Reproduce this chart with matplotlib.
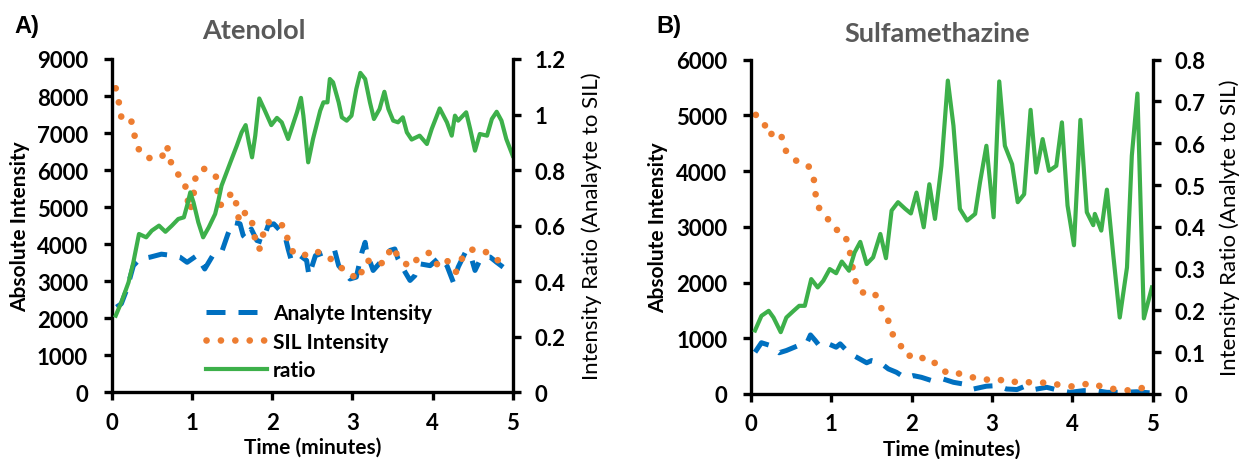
import matplotlib
matplotlib.use("Agg")
import matplotlib.pyplot as plt

# ---------------- data ----------------
# Panel A: Atenolol
a_sil_t = [0.05,0.09,0.12,0.18,0.24,0.28,0.32,0.42,0.55,0.63,0.69,0.72,0.80,0.91,0.94,
           0.97,1.01,1.03,1.05,1.16,1.30,1.32,1.36,1.43,1.53,1.56,1.59,1.67,1.75,1.78,
           1.84,1.88,1.94,2.03,2.15,2.20,2.27,2.39,2.53,2.69,2.82,2.95,3.10,3.13,3.21,
           3.33,3.43,3.48,3.59,3.71,3.83,3.96,4.06,4.15,4.22,4.29,4.36,4.47,4.63,4.76,4.86]
a_sil = [8210,7820,7430,7480,7370,6980,6610,6350,6290,6370,6670,6290,5960,5670,5300,
         4900,5130,5510,5900,6040,5820,5440,5060,5300,5370,4990,4610,4870,4590,4210,
         3850,4210,4590,4620,4480,4090,3740,3690,3830,3670,3450,3190,3060,3440,3560,
         3450,3560,3930,3640,3380,3640,3770,3450,3620,3470,3240,3590,3850,3850,3620,3520]

a_an_t = [0.06,0.12,0.19,0.27,0.35,0.48,0.62,0.77,0.85,0.94,1.06,1.16,1.27,1.37,1.45,
          1.51,1.60,1.64,1.68,1.74,1.81,1.88,1.95,2.02,2.10,2.16,2.20,2.24,2.35,2.43,
          2.46,2.54,2.72,2.78,2.83,2.97,3.05,3.12,3.16,3.18,3.26,3.35,3.47,3.53,3.57,
          3.66,3.72,3.78,3.84,3.97,4.09,4.18,4.26,4.32,4.41,4.47,4.53,4.59,4.65,4.72,
          4.80,4.88]
a_an = [2300,2390,2790,3420,3600,3650,3730,3690,3650,3510,3690,3330,3730,3780,4280,
        4590,4550,4230,4140,4410,4100,4050,4500,4550,4370,4230,3870,3560,3690,3560,
        3150,3690,3830,3830,3420,3060,3110,3780,4050,3780,3290,3510,3830,3870,3600,
        3240,3020,3150,3470,3420,3650,3420,2970,3380,3780,3740,3290,3560,3650,3650,
        3510,3380]

a_ratio_t = [0.05,0.12,0.21,0.27,0.34,0.43,0.50,0.59,0.67,0.75,0.83,0.90,0.94,0.98,1.02,
             1.08,1.14,1.21,1.29,1.33,1.37,1.48,1.56,1.62,1.67,1.71,1.75,1.79,1.84,1.91,
             1.99,2.06,2.12,2.20,2.31,2.36,2.39,2.45,2.51,2.60,2.64,2.69,2.72,2.76,2.83,
             2.87,2.93,2.99,3.05,3.10,3.16,3.22,3.27,3.34,3.40,3.45,3.51,3.57,3.63,3.68,
             3.74,3.84,3.93,3.99,4.09,4.18,4.24,4.28,4.32,4.42,4.47,4.53,4.59,4.68,4.74,
             4.80,4.86,4.92,5.00]
a_ratio = [0.276,0.324,0.396,0.468,0.570,0.558,0.582,0.600,0.578,0.600,0.624,0.630,0.672,0.720,0.684,
           0.612,0.558,0.594,0.642,0.690,0.744,0.828,0.888,0.936,0.962,0.900,0.846,0.924,1.058,1.014,
           0.962,0.988,0.972,0.912,1.008,1.060,0.996,0.828,0.912,1.014,1.044,1.044,1.128,1.116,1.044,
           0.990,0.978,0.996,1.092,1.150,1.128,1.044,0.984,1.020,1.082,1.020,0.978,0.972,0.990,0.936,
           0.910,0.924,0.894,0.948,1.022,0.972,0.924,0.996,0.978,1.008,0.948,0.870,0.930,0.924,0.984,
           1.010,0.978,0.912,0.852]

# Panel B: Sulfamethazine
b_sil_t = [0.06,0.16,0.21,0.34,0.39,0.44,0.56,0.71,0.78,0.80,0.83,0.94,1.03,1.16,1.22,
           1.25,1.28,1.33,1.43,1.54,1.61,1.70,1.75,1.85,1.94,2.09,2.20,2.31,2.44,2.58,
           2.73,2.89,3.05,3.21,3.37,3.52,3.70,3.87,4.05,4.22,4.39,4.56,4.74,4.90]
b_sil = [5010,4890,4640,4720,4590,4340,4190,4110,3880,3620,3370,3180,2970,2890,2640,
         2390,2140,1880,1790,1810,1570,1360,1100,900,680,710,550,560,370,370,
         310,250,280,200,240,190,210,150,130,200,120,80,60,120]

b_an_t = [0.05,0.13,0.24,0.35,0.44,0.59,0.69,0.74,0.80,0.86,0.98,1.06,1.11,1.19,1.29,
          1.44,1.50,1.61,1.71,1.81,1.92,2.02,2.12,2.25,2.39,2.52,2.64,2.77,2.93,3.06,
          3.18,3.31,3.41,3.52,3.68,3.85,3.97,4.14,4.30,4.43,4.63,4.80,4.97]
b_an = [750,920,870,740,780,870,900,1060,960,850,890,840,900,780,680,
        560,600,560,450,390,290,330,300,240,270,210,180,90,140,150,
        90,80,140,80,120,60,30,60,60,30,30,40,20]

b_ratio_t = [0.05,0.13,0.22,0.28,0.37,0.44,0.53,0.60,0.67,0.75,0.83,0.90,0.98,1.06,1.13,
             1.22,1.29,1.36,1.44,1.52,1.61,1.68,1.75,1.83,1.92,1.99,2.06,2.15,2.22,2.29,
             2.37,2.45,2.52,2.60,2.69,2.79,2.85,2.93,3.02,3.09,3.16,3.25,3.32,3.40,3.48,
             3.55,3.63,3.71,3.80,3.87,3.94,4.02,4.10,4.18,4.26,4.28,4.36,4.43,4.51,4.59,
             4.68,4.74,4.81,4.89,4.99]
b_ratio = [0.152,0.187,0.199,0.183,0.148,0.183,0.199,0.211,0.211,0.275,0.255,0.271,0.299,0.289,0.317,
           0.295,0.339,0.364,0.311,0.327,0.383,0.325,0.439,0.459,0.443,0.432,0.482,0.399,0.502,0.419,
           0.546,0.750,0.642,0.443,0.415,0.431,0.506,0.594,0.423,0.748,0.594,0.550,0.459,0.478,0.680,
           0.530,0.610,0.534,0.546,0.650,0.451,0.356,0.656,0.435,0.404,0.431,0.391,0.489,0.331,0.183,
           0.303,0.570,0.719,0.181,0.255]

series_labels = ["Analyte Intensity", "SIL Intensity", "ratio"]
titles = ["Atenolol", "Sulfamethazine"]
panel_letters = ["A)", "B)"]
x_ticks = [0, 1, 2, 3, 4, 5]
a_left_ticks = list(range(0, 9001, 1000))
a_right_ticks = [0, 0.2, 0.4, 0.6, 0.8, 1, 1.2]
a_right_labels = ["0", "0.2", "0.4", "0.6", "0.8", "1", "1.2"]
b_left_ticks = list(range(0, 6001, 1000))
b_right_ticks = [0, 0.1, 0.2, 0.3, 0.4, 0.5, 0.6, 0.7, 0.8]
b_right_labels = ["0", "0.1", "0.2", "0.3", "0.4", "0.5", "0.6", "0.7", "0.8"]
right_ylabels = ["Intensity Ratio (Analayte to SIL)", "Intensity Ratio (Analyte to SIL)"]

# ---------------- style ----------------
FONT = "Lato"
plt.rcParams["font.family"] = [FONT, "DejaVu Sans"]
BLUE = "#0070C0"
ORANGE = "#ED7D31"
GREEN = "#3DB04A"
SPW = 2.4
TICKFS = 16
LABFS = 15

fig = plt.figure(figsize=(12.4, 4.6), dpi=100)
W, H = 1240, 460


def axes_rect(x0, x1, ytop, ybot):
    return [x0 / W, (H - ybot) / H, (x1 - x0) / W, (ybot - ytop) / H]


def style_axes(ax):
    ax.spines["top"].set_visible(False)
    for s in ["left", "right", "bottom"]:
        ax.spines[s].set_linewidth(SPW)
        ax.spines[s].set_color("black")
    ax.tick_params(axis="both", direction="out", length=6, width=SPW,
                   labelsize=TICKFS, color="black")
    for lab in ax.get_xticklabels() + ax.get_yticklabels():
        lab.set_fontweight("bold")


def panel(rect, an_t, an, sil_t, sil, r_t, r, ylim, yticks, rlim, rticks, rlabels,
          rlabel, lab_x, rlab_x, legend=False):
    ax = fig.add_axes(rect)
    ax2 = ax.twinx()
    l1, = ax.plot(an_t, an, color=BLUE, lw=3.6, linestyle=(0, (3.8, 2.6)),
                  dash_capstyle="butt", solid_joinstyle="round")
    l2, = ax.plot(sil_t, sil, color=ORANGE, lw=4.8, linestyle=(0, (0.01, 2.15)),
                  dash_capstyle="round")
    l3, = ax2.plot(r_t, r, color=GREEN, lw=3.0, solid_joinstyle="round")
    ax.set_xlim(0, 5)
    ax.set_ylim(*ylim)
    ax.set_yticks(yticks)
    ax.set_xticks(x_ticks)
    ax.set_xticklabels([str(v) for v in x_ticks])
    ax2.set_ylim(*rlim)
    ax2.set_yticks(rticks)
    ax2.set_yticklabels(rlabels)
    style_axes(ax)
    style_axes(ax2)
    ax.spines["right"].set_visible(False)
    ax2.spines["left"].set_visible(False)
    ax2.spines["bottom"].set_visible(False)
    ax.tick_params(axis="y", pad=11)
    ax.tick_params(axis="x", pad=8)
    ax2.tick_params(axis="y", pad=10)
    ax.set_xlabel("Time (minutes)", fontsize=LABFS, fontweight="bold")
    ax.xaxis.set_label_coords(0.5, -0.133)
    ax.set_ylabel("Absolute Intensity", fontsize=LABFS, fontweight="bold")
    ax.yaxis.set_label_coords(lab_x, 0.5)
    ax2.set_ylabel(rlabel, fontsize=16, fontweight="normal")
    ax2.yaxis.set_label_coords(rlab_x, 0.5)
    if legend:
        ax2.legend([l1, l2, l3], series_labels, loc="lower left",
                   bbox_to_anchor=(0.2, -0.008), frameon=False,
                   prop={"family": FONT, "weight": "bold", "size": 15},
                   handlelength=2.9, handletextpad=0.3, labelspacing=0.42,
                   borderpad=0.2)
    return ax, ax2


panel(axes_rect(111.7, 512.7, 60, 393.3), a_an_t, a_an, a_sil_t, a_sil,
      a_ratio_t, a_ratio, (0, 9000), a_left_ticks, (0, 1.2), a_right_ticks,
      a_right_labels, right_ylabels[0], -0.204, 1.172, legend=True)
panel(axes_rect(751, 1152.7, 60.7, 395), b_an_t, b_an, b_sil_t, b_sil,
      b_ratio_t, b_ratio, (0, 6000), b_left_ticks, (0, 0.8), b_right_ticks,
      b_right_labels, right_ylabels[1], -0.207, 1.165)

fig.text(254 / W, 1 - 31 / H, titles[0], ha="center", va="center", fontsize=19.5,
         fontweight="bold", color="#595959")
fig.text(937 / W, 1 - 34 / H, titles[1], ha="center", va="center", fontsize=19.5,
         fontweight="bold", color="#595959")
fig.text(14 / W, 1 - 26 / H, panel_letters[0], ha="left", va="center", fontsize=17,
         fontweight="bold", family=["Liberation Sans", "DejaVu Sans"])
fig.text(656 / W, 1 - 26 / H, panel_letters[1], ha="left", va="center", fontsize=17,
         fontweight="bold", family=["Liberation Sans", "DejaVu Sans"])

fig.savefig("out.png", dpi=100, facecolor="white")
